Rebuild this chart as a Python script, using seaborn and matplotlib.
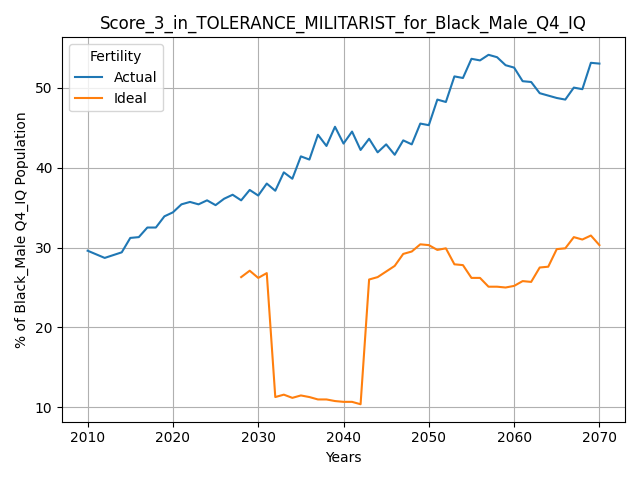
import seaborn as sns
import matplotlib.pyplot as plt
import pandas as pd

actual_years = [2010, 2012, 2014] + list(range(2015, 2071))
actual_vals = [29.6, 28.7, 29.4, 31.2, 31.3, 32.5, 32.5, 33.9, 34.4, 35.4, 35.7, 35.4, 35.9, 35.3,
               36.1, 36.6, 35.9, 37.2, 36.5, 38.0, 37.1, 39.4, 38.6, 41.4, 41.0, 44.1, 42.7, 45.1,
               43.0, 44.5, 42.2, 43.6, 41.9, 42.9, 41.6, 43.4, 42.9, 45.5, 45.3, 48.5, 48.2, 51.4,
               51.2, 53.6, 53.4, 54.1, 53.8, 52.8, 52.5, 50.8, 50.7, 49.3, 49.0, 48.7, 48.5, 50.0,
               49.8, 53.1, 53.0]
ideal_years = list(range(2028, 2071))
ideal_vals = [26.3, 27.1, 26.2, 26.8, 11.3, 11.6, 11.2, 11.5, 11.3, 11.0, 11.0, 10.8, 10.7, 10.7,
              10.4, 26.0, 26.3, 27.0, 27.7, 29.2, 29.5, 30.4, 30.3, 29.7, 29.9, 27.9, 27.8, 26.2,
              26.2, 25.1, 25.1, 25.0, 25.2, 25.8, 25.7, 27.5, 27.6, 29.8, 29.9, 31.3, 31.0, 31.5, 30.3]

df = pd.concat([
    pd.DataFrame({"Years": actual_years, "Value": actual_vals, "Fertility": "Actual"}),
    pd.DataFrame({"Years": ideal_years, "Value": ideal_vals, "Fertility": "Ideal"}),
])

fig, ax = plt.subplots(figsize=(6.4, 4.8), dpi=100)
sns.lineplot(data=df, x="Years", y="Value", hue="Fertility", ax=ax)
ax.grid(True)
ax.set_ylabel("% of Black_Male Q4_IQ Population")
ax.set_title("Score_3_in_TOLERANCE_MILITARIST_for_Black_Male_Q4_IQ")
ax.legend(title="Fertility", loc="upper left")
plt.tight_layout()
plt.savefig("out.png")
